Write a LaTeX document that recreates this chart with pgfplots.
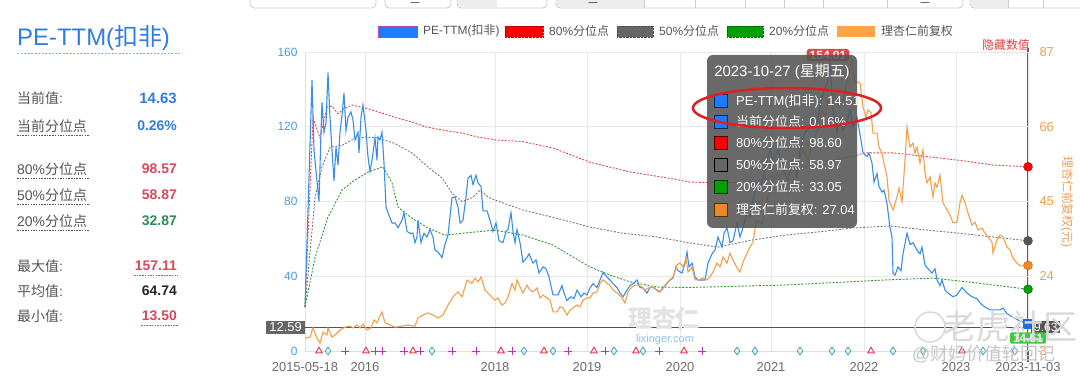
\documentclass[border=0pt]{standalone}
\usepackage{fontspec}
\setmainfont{Liberation Sans}
\newfontfamily\cjk{Noto Sans CJK SC}
\usepackage{pgfplots}
\pgfplotsset{compat=1.18}
\newcommand{\fs}[1]{\fontsize{#1}{#1}\selectfont}
\definecolor{peblue}{HTML}{3A8EE8}
\definecolor{prorange}{HTML}{F4A04A}
\definecolor{p80}{HTML}{E84848}
\definecolor{p50}{HTML}{7A7A7A}
\definecolor{p20}{HTML}{2E9A2E}
\definecolor{tickblue}{HTML}{4A9BE8}
\definecolor{tickorange}{HTML}{F0A050}
\definecolor{titleblue}{HTML}{2F7DE1}
\definecolor{valred}{HTML}{D9475A}
\definecolor{valgreen}{HTML}{2E8B57}
\definecolor{mkred}{HTML}{E8394A}
\definecolor{mkdia}{HTML}{4AA8C8}
\definecolor{mkplus}{HTML}{C030C8}
\definecolor{txtgray}{HTML}{555555}
\definecolor{lgblue}{HTML}{1E7BFF}
\definecolor{lggray}{HTML}{666666}
\definecolor{lggreen}{HTML}{00A000}
\definecolor{lgorange}{HTML}{FFA347}
\definecolor{gridc}{HTML}{E8E8E8}
\definecolor{dkgray}{HTML}{555555}
\definecolor{sqblue}{HTML}{1E6FE0}
\definecolor{mkor}{HTML}{F08A20}
\definecolor{mkordk}{HTML}{C06A10}
\definecolor{boxgreen}{HTML}{3CCB3C}
\definecolor{hidered}{HTML}{E04040}
\definecolor{wmblue}{HTML}{8EC0EE}
\definecolor{lblred}{HTML}{E04848}
\definecolor{ttorange}{HTML}{E8892A}
\definecolor{bdblue}{HTML}{0A2A6A}
\definecolor{bdred}{HTML}{550000}
\definecolor{bdgreen}{HTML}{003300}
\definecolor{bdorange}{HTML}{553000}
\definecolor{ellred}{HTML}{E02020}
\begin{document}
\begin{tikzpicture}
\useasboundingbox (0,0) rectangle (1080bp,384bp);
\fill[white] (0,0) rectangle (1080bp,384bp);
% top buttons (cut off)
\begin{scope}[draw=gray!40, line width=0.8bp]
\draw[rounded corners=4bp, fill=white] (250bp,376bp) rectangle (376bp,395bp);
\draw[rounded corners=4bp, fill=white] (385bp,376bp) rectangle (451bp,395bp);
\draw[rounded corners=4bp, fill=white] (457bp,376bp) rectangle (547bp,395bp);
\fill[gray!15] (458bp,377bp) rectangle (497bp,395bp);
\draw[rounded corners=4bp, fill=white] (556bp,376bp) rectangle (963bp,395bp);
\fill[gray!15] (557bp,377bp) rectangle (644bp,395bp);
\foreach \xx in {644,695,745,784,823,887} \draw (\xx bp,376bp) -- (\xx bp,395bp);
\draw[rounded corners=4bp, fill=white] (970bp,376bp) rectangle (1090bp,395bp);
\fill[gray!15] (971bp,377bp) rectangle (1008bp,395bp);
\draw (1008bp,376bp) -- (1008bp,395bp);
\draw (1043bp,376bp) -- (1043bp,395bp);
\end{scope}
\node[font=\fs{9}, text=black, inner sep=0] at (415bp,380bp) {---};
\node[font=\fs{9}, text=black, inner sep=0] at (593bp,380bp) {---};
\node[font=\fs{9}, text=black, inner sep=0] at (925bp,380bp) {---};
% left panel
\node[anchor=west, inner sep=0, font=\fs{24}, text=titleblue] at (17bp,346bp) {PE-TTM({\cjk 扣非})};
\draw[titleblue!60, dash pattern=on 2bp off 1.5bp, line width=0.7bp] (17bp,331bp) -- (180bp,331bp);
\begin{scope}[every node/.style={inner sep=0, font=\fs{14}}]
\node[anchor=west, text=txtgray] at (17bp,286bp) {{\cjk 当前值}:};
\node[anchor=east, text=titleblue, font=\fs{15}\bfseries] at (177bp,286bp) {14.63};
\node[anchor=west, text=txtgray] at (17bp,258bp) {\cjk 当前分位点};
\node[anchor=east, text=titleblue, font=\fs{14}\bfseries] at (177bp,258bp) {0.26\%};
\node[anchor=west, text=txtgray] at (17bp,215bp) {80\%{\cjk 分位点}};
\node[anchor=east, text=valred, font=\fs{14}\bfseries] at (177bp,215bp) {98.57};
\node[anchor=west, text=txtgray] at (17bp,189bp) {50\%{\cjk 分位点}};
\node[anchor=east, text=valred, font=\fs{14}\bfseries] at (177bp,189bp) {58.87};
\node[anchor=west, text=txtgray] at (17bp,163bp) {20\%{\cjk 分位点}};
\node[anchor=east, text=valgreen, font=\fs{14}\bfseries] at (177bp,163bp) {32.87};
\node[anchor=west, text=txtgray] at (17bp,118bp) {{\cjk 最大值}:};
\node[anchor=east, text=valred, font=\fs{14}\bfseries] at (177bp,118bp) {157.11};
\node[anchor=west, text=txtgray] at (17bp,93bp) {{\cjk 平均值}:};
\node[anchor=east, text=black!85, font=\fs{14}\bfseries] at (177bp,93bp) {64.74};
\node[anchor=west, text=txtgray] at (17bp,68bp) {{\cjk 最小值}:};
\node[anchor=east, text=valred, font=\fs{14}\bfseries] at (177bp,68bp) {13.50};
\end{scope}
\begin{scope}[dash pattern=on 1.5bp off 1.2bp, line width=0.6bp]
\foreach \yy in {249,206,180,154} \draw[txtgray] (17bp,\yy bp) -- (89bp,\yy bp);
\draw[valred] (134bp,109bp) -- (178bp,109bp);
\draw[valred] (141bp,59bp) -- (178bp,59bp);
\end{scope}
% legend
\begin{scope}[every node/.style={anchor=west, inner sep=0, font=\fs{12}, text=txtgray}]
\draw[fill=lgblue, draw=violet!70] (378bp,347bp) rectangle (417bp,358bp);
\node at (423bp,353bp) {PE-TTM({\cjk 扣非})};
\draw[fill=red, draw=red!70!black, densely dotted] (505bp,347bp) rectangle (543bp,358bp);
\node at (549bp,353bp) {80\%{\cjk 分位点}};
\draw[fill=lggray, draw=black!70, densely dotted] (617bp,347bp) rectangle (653bp,358bp);
\node at (659bp,353bp) {50\%{\cjk 分位点}};
\draw[fill=lggreen, draw=green!40!black, densely dotted] (727bp,347bp) rectangle (763bp,358bp);
\node at (769bp,353bp) {20\%{\cjk 分位点}};
\fill[lgorange] (837bp,347bp) rectangle (875bp,358bp);
\node at (881bp,353bp) {\cjk 理杏仁前复权};
\end{scope}
% crosshair line
\draw[gray!75!black, line width=1.8bp] (1028bp,22bp) -- (1028bp,336bp);
% main axis
\begin{axis}[
  at={(305bp,33bp)}, anchor=south west,
  scale only axis, width=723bp, height=299bp,
  xmin=305, xmax=1028, ymin=0, ymax=160,
  clip=false,
  axis x line*=bottom, axis y line*=left,
  axis line style={gray!25},
  major tick length=0,
  xtick={305,365,495,587,680,771,864,956,1028},
  xticklabels={2015-05-18,2016,2018,2019,2020,2021,2022,2023,2023-11-03},
  ytick={0,40,80,120,160},
  xmajorgrids, ymajorgrids,
  major grid style={gridc, line width=0.7bp},
  xticklabel style={font=\fs{13}, text=gray!85!black, yshift=-8bp},
  yticklabel style={font=\fs{12}, text=tickblue, xshift=-4bp},
  /pgf/number format/assume math mode=true,
]
\addplot[gray!65!black, line width=1.6bp] coordinates {(305,12.59)(1028,12.59)};
\addplot[p80, line width=0.9bp, dash pattern=on 2bp off 1.5bp] coordinates {(305,23.5)(313,124.7)(320,114)(327,130.5)(332,131)(338,127)(345,130)(352,131.6)(362,130.5)(378,128)(395,125)(412,122.5)(425,120)(445,118)(462,116.6)(478,114.5)(495,113)(523,112)(553,108.6)(590,101)(630,95.8)(663,93)(690,90.4)(718,90)(752,90.4)(785,95)(818,100.6)(852,104)(865,106)(893,106)(927,104)(960,102)(993,99.5)(1028,98.6)};
\addplot[p50, line width=0.9bp, dash pattern=on 2bp off 1.5bp] coordinates {(305,23.5)(315,82)(322,98.5)(330,109)(342,110)(352,113)(365,114.5)(378,114)(395,111)(412,106)(428,98.5)(442,92.6)(452,84.5)(462,80)(472,82)(480,86)(488,82.4)(495,80.8)(523,75.4)(557,71)(590,66.3)(623,63)(657,61)(690,57.8)(718,55.6)(752,59.4)(785,62)(818,63.7)(852,65.8)(890,66.9)(927,64.7)(960,63)(993,61)(1028,58.97)};
\addplot[p20, line width=0.9bp, dash pattern=on 2bp off 1.5bp] coordinates {(305,23.5)(315,50)(328,71.7)(342,86)(355,91.5)(368,95.8)(383,98.5)(392,90)(398,77)(412,71)(428,65.8)(445,62)(462,63)(495,64.7)(523,62)(553,56.7)(573,50.3)(590,45)(610,40.6)(630,37)(657,34.2)(690,34)(785,35.3)(885,38)(933,39)(977,36.4)(1028,33.05)};
\addplot[peblue, line width=1.1bp] coordinates {(305,23.5)(312,145)(314,107.5)(317,91)(319,80)(321,117)(322,133)(324,117)(326,122)(328,149)(330,125)(332,107.5)(334,91)(336,109)(338,99.5)(340,117)(342,126)(344,138)(346,118)(348,125)(351,128)(353,123.6)(355,113)(358,117)(359,106)(361,125)(363,131.6)(366,118)(368,104)(370,96)(372,102)(375,114)(377,102)(378,114.5)(380,113)(382,117)(384,100.6)(386,77)(388,74)(392,68.5)(395,68.5)(398,66)(402,70)(404,74)(407,64)(410,63)(413,63)(415,58)(417,61)(418,70)(421,58)(424,63)(427,61)(430,65)(433,61)(435,54)(438,53)(442,50)(445,57)(448,62)(450,72)(452,82)(455,82.5)(458,77)(460,68.5)(463,70)(466,82.5)(468,92.5)(471,94)(473,89)(476,94)(478,90)(481,88)(483,75)(487,75)(490,70)(493,64)(496,68.5)(499,59)(503,58)(506,64)(508,65)(511,74)(513,64)(515,58)(517,65)(520,58)(523,47.6)(527,50)(529,52)(533,47)(536,48.7)(539,41.7)(543,45)(546,44)(549,39.6)(553,30)(558,30)(562,35)(564,31)(567,27)(571,29)(574,28)(577,32.6)(581,29)(584,31)(587,30)(590,33.7)(593,36)(597,34)(600,38)(603,42)(607,39.6)(610,38)(613,36)(617,34)(620,31)(623,29)(627,32.6)(630,35)(633,36)(637,38)(640,34)(643,33.7)(647,31)(650,34)(653,34)(657,32.6)(660,31.6)(663,34)(667,36)(670,38)(673,39)(676,45)(678,43)(682,41.7)(685,47)(687,53)(689,45)(692,47)(695,39.6)(698,38)(702,38)(705,38)(708,47)(712,52)(715,54)(718,61)(722,55.6)(724,63)(727,66)(730,58)(733,59)(737,68.5)(740,61)(743,66)(747,74)(750,72)(753,81)(757,90)(760,86)(765,97)(770,107.5)(773,102)(778,107.5)(783,97)(788,91)(792,102)(797,93)(800,107.5)(805,117)(810,120)(813,125)(817,122)(820,130.5)(823,138)(827,143)(830,154)(833,129)(837,117)(840,125)(843,118)(847,122)(850,129)(853,120)(857,125)(860,116)(863,106)(867,104)(869,106)(872,100.6)(874,90.4)(877,95)(879,88)(882,85)(884,86)(887,79)(890,66)(892,61)(893,41.7)(895,40.6)(898,45)(901,43)(903,52)(907,63)(910,57)(913,58)(917,54)(920,52)(922,55.6)(925,46)(928,44)(932,41.7)(935,44)(937,38)(940,35)(942,38)(945,32.6)(948,31)(953,29)(957,30)(962,34)(967,31)(972,29)(977,28)(980,25.7)(985,23.5)(990,22)(995,22)(1000,22)(1003,23)(1007,20)(1013,18)(1018,16.6)(1023,15.5)(1028,14.63)};
% event markers
\addplot[only marks, color=mkred, mark=triangle, mark size=3.8, mark options={draw=mkred, line width=0.9bp}] coordinates {(319,0)(366,0)(413,0)(501,0)(544,0)(594,0)(636,0)(684,0)(871,0)(962,0)};
\addplot[only marks, color=mkdia, mark=diamond, mark size=3.8, mark options={draw=mkdia, line width=0.9bp}] coordinates {(328,0)(432,0)(524,0)(553,0)(614,0)(643,0)(737,0)(755,0)(800,0)(832,0)(848,0)(893,0)(923,0)(983,0)(1015,0)};
\addplot[only marks, color=mkplus, mark=+, mark size=3.8, mark options={draw=mkplus, line width=0.9bp}] coordinates {(345,0)(375,0)(382,0)(404,0)(420,0)(452,0)(476,0)(512,0)(568,0)(605,0)(659,0)(702,0)};
% crosshair end markers
\addplot[only marks, mark=*, mark size=4.5, mark options={fill=red, draw=red!80!black}] coordinates {(1028,98.6)};
\addplot[only marks, mark=*, mark size=4.5, mark options={fill=dkgray, draw=black!70}] coordinates {(1028,58.97)};
\addplot[only marks, mark=*, mark size=4.5, mark options={fill=lggreen, draw=green!40!black}] coordinates {(1028,33.05)};
\addplot[only marks, mark=square*, mark size=4.5, mark options={fill=sqblue, draw=sqblue}] coordinates {(1028,14.63)};
\node[anchor=east, fill=lggray, text=white, font=\fs{13}, inner xsep=3bp, inner ysep=2bp] at (axis cs:305,12.59) {12.59};
\end{axis}
% right axis
\begin{axis}[
  at={(305bp,33bp)}, anchor=south west,
  scale only axis, width=723bp, height=299bp,
  xmin=305, xmax=1028, ymin=3, ymax=87,
  axis x line=none, axis y line*=right,
  axis line style={draw=none},
  major tick length=0,
  ytick={3,24,45,66,87},
  yticklabel style={font=\fs{13}, text=tickorange, xshift=8bp},
  /pgf/number format/assume math mode=true,
]
\addplot[prorange, line width=1.1bp] coordinates {(305,6.65)(310,6.9)(313,9.5)(317,6.65)(320,5.2)(323,8.3)(327,7.5)(328,9.5)(332,6.9)(335,7.5)(340,8.9)(345,9.7)(350,10)(353,9.5)(357,10.3)(360,9.5)(363,10.6)(367,8.9)(371,9.5)(374,11.7)(377,10.9)(379,12.3)(382,14)(385,10.9)(390,10.3)(395,9.7)(402,10)(408,10.3)(415,10)(418,12.3)(423,13.1)(428,13.7)(433,13.1)(438,12.3)(443,13.1)(448,15.9)(453,18.2)(458,19.6)(462,18.2)(467,22.9)(472,22)(475,23.5)(478,22.4)(481,23.8)(485,20.1)(490,18.7)(495,17.3)(498,17.9)(502,15.9)(505,16.5)(508,18.2)(512,22)(515,20.1)(517,23)(520,21)(523,19.3)(527,21.5)(530,20.1)(533,19.6)(537,20.7)(540,17.9)(543,18.7)(547,17.9)(550,17.3)(553,14)(557,14)(560,15.4)(563,15.1)(567,13.1)(570,14.5)(573,15.1)(577,15.9)(580,15.4)(583,17.3)(587,17.9)(590,17.9)(593,19.3)(597,19.6)(600,22)(603,23)(607,22)(610,21.5)(613,20.1)(617,19.3)(622,17.9)(625,16.5)(628,19.6)(632,21)(635,21.5)(638,21.5)(642,21)(645,20.1)(648,20.7)(652,21)(655,20.7)(658,19.6)(662,20.1)(665,21.5)(670,23)(673,23.8)(677,27.2)(680,27.7)(683,26.6)(686,29)(688,25.2)(692,26.6)(695,23)(698,23)(703,23.5)(707,23)(710,23.8)(713,25.2)(717,27.7)(720,26.6)(723,29.4)(727,27.7)(730,30.5)(733,28.6)(737,26.3)(740,25.2)(743,28)(747,30.5)(750,32.2)(753,33.6)(756,39)(758,39.8)(762,38.4)(765,42.6)(768,46.3)(772,50.2)(777,53)(782,50.2)(787,47.4)(790,49)(795,51.9)(798,55.8)(803,59.5)(808,56.7)(813,62.3)(818,65.1)(822,70.7)(825,68.7)(828,73.5)(832,71.5)(835,75.5)(838,71.5)(842,72.7)(845,76.3)(848,80)(852,84.7)(855,78.3)(858,78.6)(860,78.3)(863,71.5)(866,68.7)(868,70.7)(871,69.9)(873,64.2)(877,64.2)(879,60.3)(882,58.6)(884,55.8)(887,51.9)(889,45.4)(893,42.6)(897,46.3)(899,48.8)(902,44.9)(905,56.7)(907,65.9)(910,60.3)(913,61.4)(915,58.6)(917,60.3)(920,55.8)(923,59.5)(925,53)(927,50.2)(930,51.9)(933,46.3)(935,50.2)(937,49)(940,52.4)(943,44.6)(947,42.6)(950,41.2)(953,39)(957,39.2)(960,44.6)(962,46.8)(965,44.6)(968,41.8)(972,38.4)(975,39.2)(978,37)(982,37.5)(985,36.1)(988,35)(992,33.6)(993,30.5)(997,34.2)(1000,35.6)(1003,35)(1007,32.2)(1010,31.4)(1013,29.1)(1017,27.7)(1020,26.9)(1025,26.9)(1028,27.04)};
\addplot[only marks, mark=*, mark size=4.5, mark options={fill=mkor, draw=mkordk}] coordinates {(1028,27.04)};
\end{axis}
% right-side labels
\node[fill=dkgray, text=white, font=\fs{12}, inner xsep=3bp, inner ysep=2bp, anchor=west] at (1031bp,57bp) {9.63};
\node[fill=boxgreen, text=white, font=\fs{12}\bfseries, inner xsep=3bp, inner ysep=1.5bp, rounded corners=2bp] at (1028bp,46bp) {14.51};
\node[font=\fs{12}, text=tickorange, rotate=-90] at (1067bp,182bp) {{\cjk 理杏仁前复权}({\cjk 元})};
\node[font=\fs{12}, text=hidered] at (1006bp,339bp) {\cjk 隐藏数值};
% watermarks
\node[font=\fs{24}\bfseries, text=gray!22] at (664bp,66bp) {\cjk 理杏仁};
\node[font=\fs{11}, text=wmblue] at (665bp,44bp) {lixinger.com};
\draw[gray!30, line width=1.5bp] (930bp,57bp) circle (15bp);
\node[font=\fs{34}, text=gray!30] at (1010bp,57bp) {\cjk 老虎社区};
\node[font=\fs{18}, text=gray!45] at (984bp,30bp) {@{\cjk 财妈价值轮回记}};
% 154.01 label
\node[fill=lblred, text=white, font=\fs{12}\bfseries, rounded corners=3bp, inner xsep=3bp, inner ysep=2bp] at (828bp,329bp) {154.01};
% tooltip
\fill[dkgray, opacity=0.88, rounded corners=6bp] (707bp,156bp) rectangle (857bp,329bp);
\node[font=\fs{15}, text=white] at (782bp,312bp) {2023-10-27 ({\cjk 星期五})};
\begin{scope}[every node/.style={anchor=west, inner sep=0, font=\fs{13}, text=white}]
\draw[fill=lgblue, draw=bdblue] (714bp,277bp) rectangle (727bp,290bp);
\node at (736bp,283bp) {PE-TTM({\cjk 扣非}): 14.51};
\draw[fill=lgblue, draw=bdblue] (714bp,256bp) rectangle (727bp,269bp);
\node at (736bp,262bp) {{\cjk 当前分位点}: 0.16\%};
\draw[fill=red, draw=bdred] (714bp,235bp) rectangle (727bp,248bp);
\node at (736bp,241bp) {80\%{\cjk 分位点}: 98.60};
\draw[fill=lggray, draw=black] (714bp,213bp) rectangle (727bp,226bp);
\node at (736bp,219bp) {50\%{\cjk 分位点}: 58.97};
\draw[fill=lggreen, draw=bdgreen] (714bp,191bp) rectangle (727bp,204bp);
\node at (736bp,197bp) {20\%{\cjk 分位点}: 33.05};
\draw[fill=ttorange, draw=bdorange] (714bp,168bp) rectangle (727bp,181bp);
\node at (736bp,174bp) {{\cjk 理杏仁前复权}: 27.04};
\end{scope}
\draw[ellred, line width=2.5bp] (787bp,276bp) ellipse [x radius=94bp, y radius=20bp];
\end{tikzpicture}
\end{document}
